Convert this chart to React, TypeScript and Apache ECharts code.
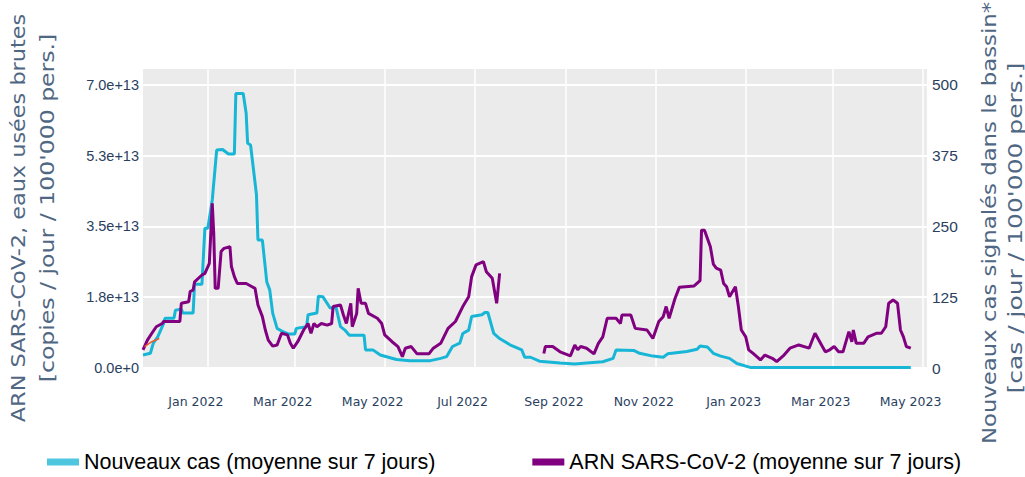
import React, { useEffect, useRef } from 'react';
import * as echarts from 'echarts';

// ---- axis domain (daily categories) ----
const AXIS_START = '2021-11-18';
const AXIS_END = '2023-05-04';
function buildDays(start: string, end: string): string[] {
  const out: string[] = [];
  let t = Date.parse(start + 'T00:00:00Z');
  const e = Date.parse(end + 'T00:00:00Z');
  while (t <= e) {
    out.push(new Date(t).toISOString().slice(0, 10));
    t += 86400000;
  }
  return out;
}
const axisDates = buildDays(AXIS_START, AXIS_END);
const monthNames = ['Jan', 'Feb', 'Mar', 'Apr', 'May', 'Jun', 'Jul', 'Aug', 'Sep', 'Oct', 'Nov', 'Dec'];
const tickMonths = [1, 3, 5, 7, 9, 11];

// ---- tick labels ----
const leftTicks = [0, 1.75e13, 3.5e13, 5.25e13, 7.0e13];
const rightTicks = [0, 125, 250, 375, 500];

// ---- Nouveaux cas (moyenne sur 7 jours), cas / jour / 100'000 pers. ----
const casesDates = ['2021-11-18','2021-11-23','2021-11-25','2021-11-28','2021-12-02','2021-12-03','2021-12-09','2021-12-10','2021-12-14','2021-12-15','2021-12-22','2021-12-23','2021-12-28','2021-12-30','2022-01-01','2022-01-04','2022-01-07','2022-01-11','2022-01-15','2022-01-19','2022-01-20','2022-01-25','2022-01-27','2022-01-28','2022-01-30','2022-02-03','2022-02-04','2022-02-07','2022-02-10','2022-02-12','2022-02-14','2022-02-17','2022-02-21','2022-02-25','2022-03-01','2022-03-02','2022-03-09','2022-03-10','2022-03-16','2022-03-17','2022-03-20','2022-03-25','2022-03-29','2022-04-01','2022-04-04','2022-04-07','2022-04-17','2022-04-18','2022-04-23','2022-04-28','2022-05-09','2022-05-18','2022-06-01','2022-06-08','2022-06-12','2022-06-16','2022-06-21','2022-06-23','2022-06-27','2022-06-29','2022-07-06','2022-07-08','2022-07-10','2022-07-14','2022-07-18','2022-07-25','2022-08-02','2022-08-04','2022-08-08','2022-08-14','2022-08-28','2022-09-07','2022-09-15','2022-09-26','2022-10-03','2022-10-05','2022-10-17','2022-10-21','2022-10-30','2022-11-06','2022-11-09','2022-11-22','2022-11-29','2022-12-01','2022-12-06','2022-12-10','2022-12-15','2022-12-21','2022-12-26','2023-01-04','2023-04-23'];
const casesValues = [23,26,44,55,79,88,88,102,104,97,97,148,148,247,247,297,385,386,378,378,485,485,450,397,394,306,226,226,152,138,97,70,64,60,60,70,73,94,97,127,126,106,107,73,67,58,58,32,32,23,15,13,13,17,20,38,44,61,67,91,94,98,98,61,52,41,32,19,19,12,9,7,9,11,17,32,31,26,21,19,25,29,33,39,37,26,21,17,8,1,1];

// ---- ARN SARS-CoV-2 (moyenne sur 7 jours), in units of 1e13 copies / jour / 100'000 pers. ----
const rnaDates = ['2021-11-18','2021-11-21','2021-11-24','2021-11-27','2021-12-01','2021-12-02','2021-12-13','2021-12-14','2021-12-19','2021-12-20','2021-12-22','2021-12-23','2021-12-28','2021-12-30','2022-01-02','2022-01-03','2022-01-04','2022-01-05','2022-01-06','2022-01-08','2022-01-10','2022-01-12','2022-01-16','2022-01-17','2022-01-19','2022-01-21','2022-01-27','2022-01-31','2022-02-02','2022-02-04','2022-02-07','2022-02-09','2022-02-11','2022-02-14','2022-02-17','2022-02-20','2022-02-24','2022-02-26','2022-02-28','2022-03-03','2022-03-07','2022-03-10','2022-03-12','2022-03-14','2022-03-16','2022-03-19','2022-03-23','2022-03-26','2022-03-27','2022-04-01','2022-04-03','2022-04-05','2022-04-08','2022-04-09','2022-04-12','2022-04-13','2022-04-15','2022-04-18','2022-04-20','2022-04-26','2022-04-29','2022-05-01','2022-05-06','2022-05-10','2022-05-13','2022-05-15','2022-05-19','2022-05-23','2022-05-31','2022-06-03','2022-06-08','2022-06-13','2022-06-18','2022-06-23','2022-06-27','2022-06-29','2022-07-02','2022-07-07','2022-07-09','2022-07-13','2022-07-16','2022-07-18','2022-07-19','2022-08-17','2022-08-18','2022-08-23','2022-08-28','2022-09-04','2022-09-07','2022-09-09','2022-09-11','2022-09-15','2022-09-20','2022-09-23','2022-09-26','2022-09-29','2022-10-05','2022-10-08','2022-10-09','2022-10-15','2022-10-18','2022-10-26','2022-10-30','2022-11-03','2022-11-06','2022-11-08','2022-11-10','2022-11-14','2022-11-17','2022-11-27','2022-12-01','2022-12-02','2022-12-04','2022-12-08','2022-12-10','2022-12-12','2022-12-15','2022-12-17','2022-12-19','2022-12-21','2022-12-25','2022-12-27','2022-12-29','2023-01-01','2023-01-03','2023-01-06','2023-01-11','2023-01-14','2023-01-19','2023-01-22','2023-01-27','2023-01-31','2023-02-06','2023-02-13','2023-02-17','2023-02-22','2023-02-24','2023-02-27','2023-03-02','2023-03-05','2023-03-08','2023-03-12','2023-03-14','2023-03-15','2023-03-17','2023-03-22','2023-03-25','2023-03-31','2023-04-03','2023-04-06','2023-04-08','2023-04-11','2023-04-14','2023-04-16','2023-04-18','2023-04-20','2023-04-23'];
const rnaValuesE13 = [0.45,0.69,0.86,1.02,1.10,1.15,1.15,1.60,1.64,1.89,1.93,2.13,2.30,2.34,2.59,3.33,4.07,3.33,1.97,1.97,2.88,2.96,3.00,2.51,2.26,2.09,2.09,2.01,1.97,1.56,1.27,0.94,0.69,0.54,0.57,0.86,0.82,0.61,0.49,0.65,0.94,1.10,0.86,1.10,1.02,1.10,1.06,1.10,1.52,1.56,1.31,1.10,1.60,1.02,1.35,1.97,1.60,1.60,1.35,1.23,1.10,0.82,0.65,0.53,0.28,0.49,0.53,0.35,0.35,0.49,0.61,0.98,1.15,1.52,1.76,2.26,2.55,2.63,2.38,2.22,1.60,2.34,null,0.36,0.53,0.53,0.40,0.30,0.57,0.45,0.53,0.49,0.35,0.61,0.77,1.23,1.23,1.10,1.31,1.31,0.98,0.94,0.73,1.15,1.27,1.52,1.23,1.72,2.00,2.03,2.16,3.41,3.41,3.00,2.57,2.47,2.42,2.09,2.01,1.76,2.01,1.52,0.94,0.77,0.45,0.36,0.20,0.32,0.24,0.16,0.32,0.49,0.57,0.49,0.86,0.53,0.40,0.45,0.53,0.40,0.40,0.90,0.65,0.94,0.61,0.61,0.77,0.86,0.86,1.02,1.60,1.68,1.60,0.94,0.77,0.53,0.49];

// ---- short extra trace at the very start (orange) ----
const extraDates = ['2021-11-19', '2021-11-24', '2021-11-29'];
const extraValuesE13 = [0.53, 0.65, 0.73];

const NAME_CASES = 'Nouveaux cas (moyenne sur 7 jours)';
const NAME_RNA = 'ARN SARS-CoV-2 (moyenne sur 7 jours)';

const isTick = (v: string) => v.slice(8) === '01' && tickMonths.includes(+v.slice(5, 7));
const fmtDate = (v: string) => monthNames[+v.slice(5, 7) - 1] + ' ' + v.slice(0, 4);

const TICK_COLOR = '#2a3f5f';
const TITLE_COLOR = '#506784';
const TICK_FONT = "'Liberation Sans', Arial, sans-serif";

export default function App() {
  const ref = useRef<HTMLDivElement>(null);
  useEffect(() => {
    if (!ref.current) return;
    const chart = echarts.init(ref.current, undefined, { renderer: 'svg' });
    const zip = (d: string[], v: (number | null)[], k = 1) =>
      d.map((x, i) => [x, v[i] === null ? null : (v[i] as number) * k]);
    const leftMax = leftTicks[leftTicks.length - 1] * 1.06;
    const rightMax = rightTicks[rightTicks.length - 1] * 1.06;
    const titleStyle = {
      fontFamily: "'DejaVu Sans', sans-serif", fontSize: 20, fill: TITLE_COLOR,
      align: 'center', verticalAlign: 'middle', textAlign: 'center', textVerticalAlign: 'middle',
    };
    chart.setOption({
      animation: false,
      backgroundColor: '#ffffff',
      grid: {
        left: 143, right: 98, top: 68, bottom: 109,
        show: true, backgroundColor: '#ebebeb', borderWidth: 0,
      },
      legend: {
        left: 42, top: 446, itemWidth: 32, itemHeight: 7, itemGap: 97, icon: 'rect',
        textStyle: { fontFamily: "'Liberation Sans', Arial, sans-serif", fontSize: 21.5, color: '#000' },
        data: [
          { name: NAME_CASES, itemStyle: { color: '#4ec6e0' } },
          { name: NAME_RNA, itemStyle: { color: '#800080' } },
        ],
      },
      xAxis: {
        type: 'category', data: axisDates, boundaryGap: false,
        axisLine: { show: false }, axisTick: { show: false },
        axisLabel: {
          interval: (_i: number, v: string) => isTick(v), formatter: fmtDate,
          fontFamily: "'DejaVu Sans', Verdana, sans-serif", fontSize: 12.5, color: TICK_COLOR,
          margin: 27, padding: [0, 24, 0, 0],
        },
        splitLine: {
          show: true, interval: (_i: number, v: string) => isTick(v),
          lineStyle: { color: '#ffffff', width: 1.5 },
        },
      },
      yAxis: [
        {
          type: 'value', position: 'left', min: 0, max: leftMax, interval: leftTicks[1],
          axisLine: { show: false }, axisTick: { show: false },
          splitLine: { show: true, lineStyle: { color: '#ffffff', width: 2 } },
          axisLabel: {
            showMaxLabel: false,
            formatter: (v: number) => (v > leftTicks[leftTicks.length - 1] * 1.01 ? '' : v.toExponential(1)),
            fontFamily: TICK_FONT, fontSize: 14.5, color: TICK_COLOR, margin: 4,
          },
        },
        {
          type: 'value', position: 'right', min: 0, max: rightMax, interval: rightTicks[1],
          axisLine: { show: false }, axisTick: { show: false }, splitLine: { show: false },
          axisLabel: {
            showMaxLabel: false,
            formatter: (v: number) => (v > rightTicks[rightTicks.length - 1] * 1.01 ? '' : String(v)),
            fontFamily: TICK_FONT, fontSize: 15.5, color: TICK_COLOR, margin: 5,
          },
        },
      ],
      series: [
        {
          name: NAME_CASES, type: 'line', yAxisIndex: 1, showSymbol: false, symbol: 'none',
          data: zip(casesDates, casesValues),
          lineStyle: { color: '#17b6d6', width: 3 }, itemStyle: { color: '#17b6d6' },
        },
        {
          name: NAME_RNA, type: 'line', yAxisIndex: 0, showSymbol: false, symbol: 'none',
          data: zip(rnaDates, rnaValuesE13, 1e13), connectNulls: false,
          lineStyle: { color: '#800080', width: 3 }, itemStyle: { color: '#800080' },
        },
        {
          name: 'extra', type: 'line', yAxisIndex: 0, showSymbol: false, symbol: 'none',
          data: zip(extraDates, extraValuesE13, 1e13),
          lineStyle: { color: '#ee5a2a', width: 1.5 }, itemStyle: { color: '#ee5a2a' },
        },
      ],
      graphic: [
        { type: 'text', x: 18, y: 218, rotation: Math.PI / 2, scaleX: 1.12, silent: true,
          style: { ...titleStyle, text: 'ARN SARS-CoV-2, eaux usées brutes' } },
        { type: 'text', x: 47, y: 208, rotation: Math.PI / 2, scaleX: 1.18, silent: true,
          style: { ...titleStyle, text: "[copies / jour / 100'000 pers.]" } },
        { type: 'text', x: 989, y: 223, rotation: Math.PI / 2, scaleX: 1.14, silent: true,
          style: { ...titleStyle, text: 'Nouveaux cas signalés dans le bassin*' } },
        { type: 'text', x: 1015, y: 228, rotation: Math.PI / 2, scaleX: 1.25, silent: true,
          style: { ...titleStyle, text: "[cas / jour / 100'000 pers.]" } },
      ],
    });
    return () => chart.dispose();
  }, []);
  return <div ref={ref} style={{ position: 'fixed', left: 0, top: 0, width: 1025, height: 477 }} />;
}
